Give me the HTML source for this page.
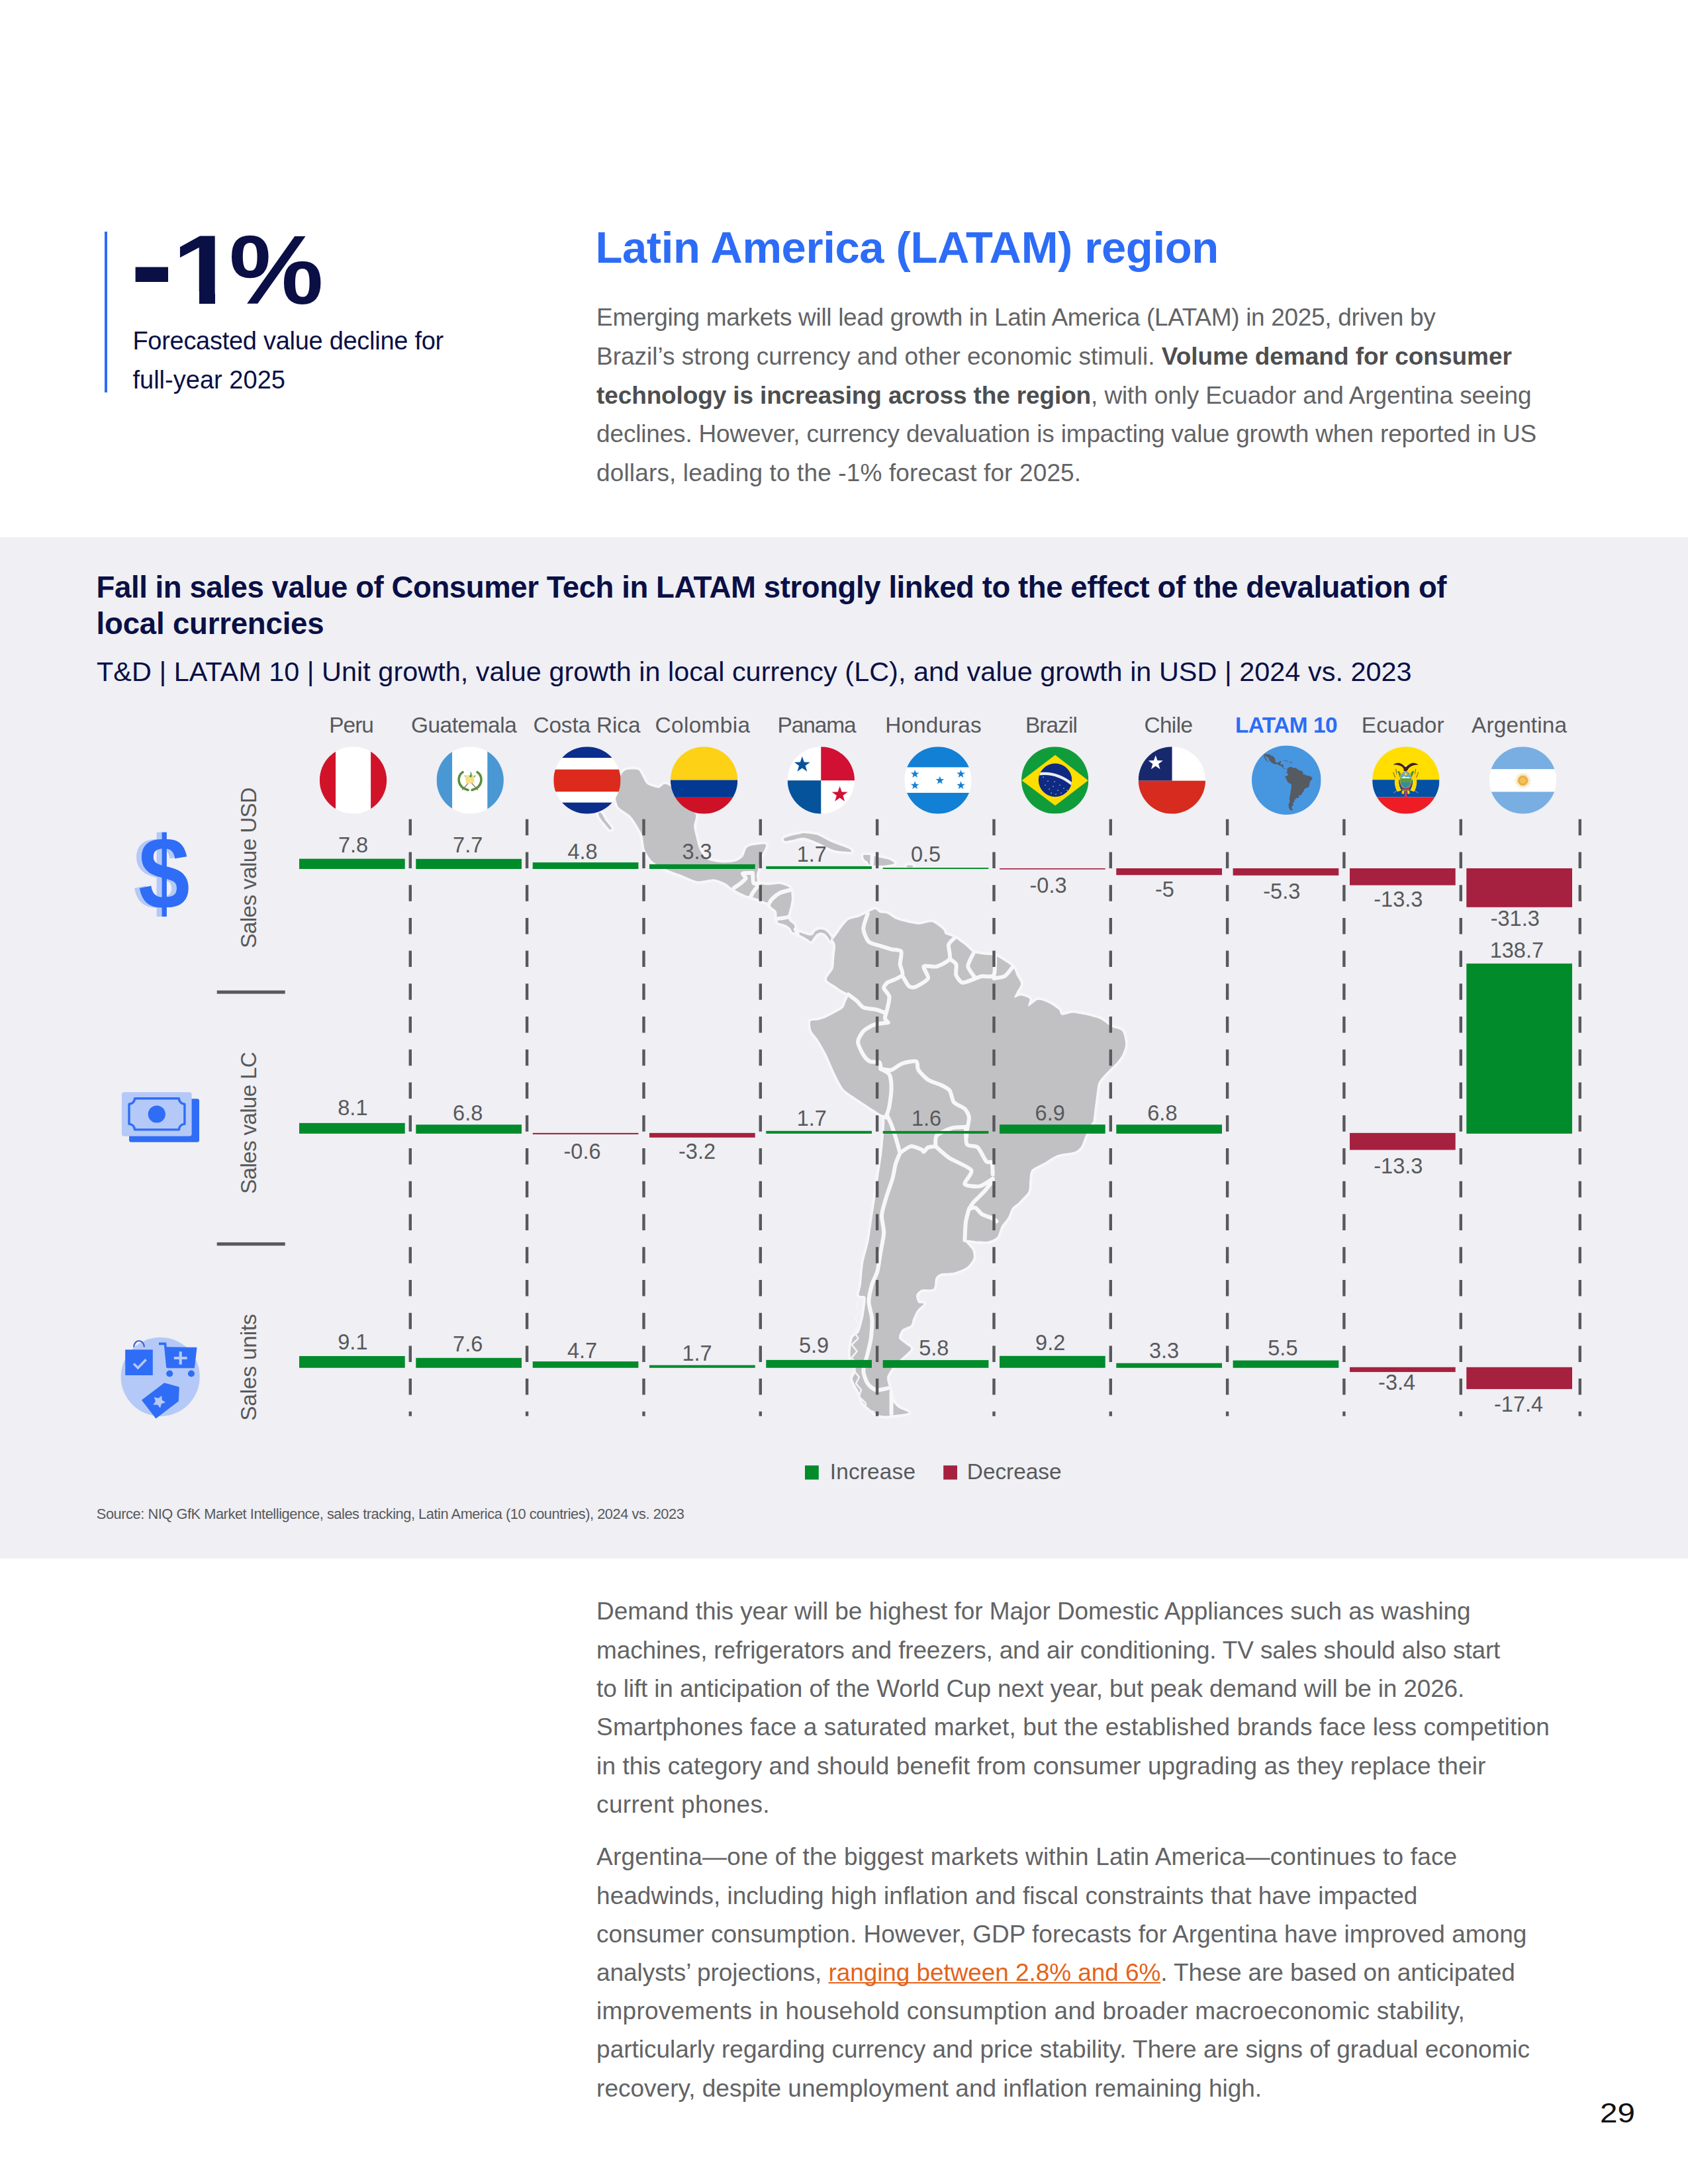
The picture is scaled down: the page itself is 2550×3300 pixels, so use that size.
<!DOCTYPE html>
<html lang="en"><head><meta charset="utf-8"><title>Latin America (LATAM) region</title>
<style>
html,body{margin:0;padding:0}
body{width:2550px;height:3300px;position:relative;background:#fff;overflow:hidden;font-family:'Liberation Sans',sans-serif}
.band{position:absolute;left:0;top:812px;width:2550px;height:1542.8px;background:#efeff4}
.rule{position:absolute;left:158.4px;top:349.5px;width:3.8px;height:243.5px;background:#2d6cf6}
.g{margin:0;padding:0;font:inherit}
.t{position:absolute;display:block;white-space:nowrap;line-height:1;transform-origin:0 50%}
.t b{font-weight:700;color:#4d4e50}
.t a{color:#e3641b;text-decoration:underline;text-decoration-thickness:2px;text-underline-offset:2px;text-decoration-skip-ink:none}
.usd{position:absolute;left:208.6px;top:1242px;font-size:155px;font-weight:700;line-height:1;color:#2f6df6;text-shadow:-8.5px -0.5px 0 #b5c9f8;transform:scaleX(0.90);transform-origin:0 0}
</style></head><body>
<div class="band"></div>
<div class="rule"></div>
<svg width="2550" height="3300" viewBox="0 0 2550 3300" style="position:absolute;left:0;top:0">
<path d="M929.6 1199.6 C929.7 1194.4 933.1 1181.8 935.0 1177.4 C936.8 1173.0 940.8 1165.8 944.4 1164.1 C948.0 1162.3 960.5 1162.2 963.7 1163.2 C966.8 1164.1 967.9 1168.8 969.6 1171.5 C971.3 1174.2 974.5 1182.4 977.6 1184.8 C980.8 1187.2 991.5 1190.7 994.8 1190.7 C998.0 1190.7 1001.3 1185.0 1003.7 1184.8 C1006.1 1184.6 1011.4 1186.5 1014.0 1189.2 C1016.6 1192.0 1021.3 1203.3 1024.4 1207.0 C1027.6 1210.7 1035.9 1215.9 1039.2 1218.9 C1042.6 1221.8 1050.0 1227.0 1051.1 1230.7 C1052.2 1234.4 1048.1 1244.4 1048.1 1248.5 C1048.1 1252.6 1050.0 1258.9 1051.1 1263.3 C1052.2 1267.7 1054.8 1279.6 1057.0 1284.0 C1059.2 1288.5 1064.8 1296.4 1068.8 1298.8 C1072.9 1301.2 1084.4 1302.9 1089.6 1303.3 C1094.8 1303.7 1106.2 1302.9 1110.3 1301.8 C1114.4 1300.7 1119.9 1297.0 1122.2 1294.4 C1124.4 1291.8 1126.2 1283.2 1128.1 1281.1 C1129.9 1279.0 1133.4 1278.2 1137.0 1277.5 C1140.5 1276.8 1154.0 1274.9 1156.2 1275.7 C1158.4 1276.5 1155.7 1281.5 1154.7 1284.0 C1153.8 1286.5 1149.9 1292.5 1148.8 1295.9 C1147.7 1299.2 1146.6 1307.4 1145.9 1310.7 C1145.1 1314.0 1142.9 1319.6 1142.9 1322.5 C1142.9 1325.5 1143.6 1332.5 1145.9 1334.4 C1148.1 1336.2 1156.6 1337.2 1160.7 1337.3 C1164.7 1337.5 1174.4 1335.3 1178.4 1335.9 C1182.5 1336.4 1191.1 1339.2 1193.2 1341.8 C1195.4 1344.4 1195.8 1353.2 1195.9 1356.6 C1196.0 1360.0 1194.8 1365.7 1194.1 1369.0 C1193.5 1372.4 1190.8 1380.5 1190.6 1383.3 C1190.4 1386.0 1191.2 1389.5 1192.4 1391.3 C1193.5 1393.0 1198.4 1395.8 1199.5 1397.5 C1200.6 1399.1 1200.4 1403.3 1201.2 1404.6 C1202.1 1405.9 1205.0 1407.4 1206.6 1408.1 C1208.1 1408.9 1211.7 1410.1 1213.7 1410.8 C1215.7 1411.5 1220.8 1413.2 1222.6 1413.5 C1224.3 1413.7 1226.8 1413.4 1227.9 1412.6 C1229.0 1411.8 1230.1 1408.3 1231.5 1407.3 C1232.8 1406.2 1236.8 1404.5 1238.6 1404.3 C1240.3 1404.1 1244.1 1404.8 1245.7 1405.5 C1247.2 1406.2 1249.7 1408.5 1251.0 1409.9 C1252.3 1411.4 1255.3 1415.9 1256.3 1417.0 C1257.3 1418.1 1257.7 1419.9 1259.0 1418.8 C1260.3 1417.7 1265.6 1410.1 1267.0 1408.1 C1268.4 1406.2 1268.2 1405.5 1270.1 1403.3 C1271.9 1401.1 1278.0 1392.5 1281.5 1390.3 C1284.9 1388.0 1294.1 1386.8 1297.8 1385.4 C1301.4 1384.0 1307.7 1380.3 1310.8 1378.9 C1313.8 1377.5 1319.9 1374.0 1322.2 1374.0 C1324.4 1374.0 1326.5 1378.1 1328.7 1378.9 C1330.9 1379.7 1337.1 1379.3 1340.1 1380.5 C1343.2 1381.7 1349.5 1387.0 1353.1 1388.7 C1356.8 1390.3 1365.0 1392.5 1369.4 1393.5 C1373.9 1394.6 1384.1 1396.8 1389.0 1396.8 C1393.9 1396.8 1404.1 1392.5 1408.5 1393.5 C1413.0 1394.6 1422.4 1402.7 1424.8 1404.9 C1427.3 1407.2 1426.1 1410.0 1428.1 1411.5 C1430.1 1412.9 1437.5 1414.3 1441.1 1416.3 C1444.8 1418.4 1453.7 1424.9 1457.4 1427.8 C1461.1 1430.6 1466.8 1437.3 1470.4 1439.2 C1474.1 1441.0 1482.7 1441.8 1486.7 1442.4 C1490.8 1443.0 1499.2 1442.8 1503.0 1444.0 C1506.9 1445.3 1514.2 1449.9 1517.7 1452.2 C1521.2 1454.4 1528.5 1459.3 1530.7 1462.0 C1533.0 1464.6 1534.2 1470.3 1535.6 1473.4 C1537.0 1476.4 1542.1 1483.1 1542.1 1486.4 C1542.1 1489.7 1536.8 1496.8 1535.6 1499.4 C1534.4 1502.1 1531.5 1507.0 1532.4 1507.6 C1533.2 1508.2 1539.3 1504.1 1542.1 1504.3 C1545.0 1504.5 1553.7 1507.2 1555.2 1509.2 C1556.6 1511.2 1551.9 1520.4 1553.5 1520.6 C1555.2 1520.8 1564.3 1511.5 1568.2 1510.8 C1572.1 1510.2 1580.6 1513.9 1584.5 1515.7 C1588.4 1517.6 1596.7 1523.3 1599.2 1525.5 C1601.6 1527.7 1601.4 1533.0 1604.0 1533.6 C1606.7 1534.3 1615.9 1530.4 1620.3 1530.4 C1624.8 1530.4 1634.6 1532.4 1639.9 1533.6 C1645.2 1534.9 1657.8 1537.9 1662.7 1540.2 C1667.6 1542.4 1674.9 1549.3 1679.0 1551.6 C1683.1 1553.8 1692.6 1554.8 1695.3 1558.1 C1697.9 1561.3 1700.2 1573.2 1700.2 1577.6 C1700.2 1582.1 1697.1 1590.3 1695.3 1593.9 C1693.4 1597.6 1688.8 1603.3 1685.5 1607.0 C1682.2 1610.6 1672.5 1619.6 1669.2 1623.3 C1665.9 1626.9 1661.1 1632.2 1659.4 1636.3 C1657.8 1640.4 1657.0 1650.1 1656.2 1655.8 C1655.4 1661.5 1653.5 1677.0 1652.9 1681.9 C1652.3 1686.8 1651.7 1693.1 1651.3 1694.9 C1650.9 1696.7 1651.1 1693.7 1649.7 1696.3 C1648.2 1698.9 1641.9 1711.4 1639.9 1715.8 C1637.8 1720.3 1635.4 1729.1 1633.4 1732.1 C1631.3 1735.2 1628.1 1738.7 1623.6 1740.3 C1619.1 1741.9 1603.2 1743.1 1597.5 1745.2 C1591.8 1747.2 1582.9 1753.7 1578.0 1756.6 C1573.1 1759.4 1561.3 1764.5 1558.4 1768.0 C1555.6 1771.4 1555.8 1780.2 1555.2 1784.3 C1554.6 1788.3 1555.6 1796.5 1553.5 1800.6 C1551.5 1804.6 1541.9 1813.8 1538.9 1816.9 C1535.8 1819.9 1531.1 1822.1 1529.1 1825.0 C1527.1 1827.8 1524.6 1836.2 1522.6 1839.7 C1520.5 1843.1 1514.8 1849.0 1512.8 1852.7 C1510.8 1856.4 1508.7 1866.1 1506.3 1869.0 C1503.8 1871.8 1496.9 1874.7 1493.3 1875.5 C1489.6 1876.3 1481.4 1875.7 1477.0 1875.5 C1472.5 1875.3 1458.4 1872.2 1457.4 1873.9 C1456.4 1875.5 1467.2 1885.1 1468.8 1888.5 C1470.4 1892.0 1471.5 1898.3 1470.4 1901.6 C1469.4 1904.8 1464.3 1912.0 1460.7 1914.6 C1457.0 1917.3 1446.0 1921.5 1441.1 1922.8 C1436.2 1924.0 1425.0 1923.4 1421.6 1924.4 C1418.1 1925.4 1414.9 1928.0 1413.4 1930.9 C1412.0 1933.7 1412.8 1944.9 1410.2 1947.2 C1407.5 1949.4 1395.5 1947.6 1392.2 1948.8 C1389.0 1950.0 1384.7 1954.5 1384.1 1957.0 C1383.5 1959.4 1385.9 1966.7 1387.4 1968.4 C1388.8 1970.0 1395.7 1968.6 1395.5 1970.0 C1395.3 1971.4 1387.8 1976.9 1385.7 1979.8 C1383.7 1982.6 1380.4 1990.0 1379.2 1992.8 C1378.0 1995.7 1378.0 2000.5 1376.0 2002.6 C1373.9 2004.6 1365.2 2006.7 1362.9 2009.1 C1360.7 2011.5 1357.2 2019.3 1358.0 2022.1 C1358.8 2025.0 1367.2 2029.9 1369.4 2031.9 C1371.7 2033.9 1376.8 2036.0 1376.0 2038.4 C1375.1 2040.9 1366.2 2048.2 1362.9 2051.5 C1359.7 2054.7 1352.7 2060.8 1349.9 2064.5 C1347.0 2068.2 1340.9 2076.7 1340.1 2080.8 C1339.3 2084.9 1342.6 2093.0 1343.4 2097.1 C1344.2 2101.1 1345.0 2109.7 1346.6 2113.4 C1348.3 2117.0 1353.1 2123.8 1356.4 2126.4 C1359.7 2129.0 1373.1 2133.1 1372.7 2134.5 C1372.3 2136.0 1357.6 2137.2 1353.1 2137.8 C1348.7 2138.4 1340.5 2139.6 1336.9 2139.4 C1333.2 2139.2 1327.9 2138.6 1323.8 2136.2 C1319.7 2133.7 1307.5 2124.0 1304.3 2119.9 C1301.0 2115.8 1299.8 2108.1 1297.8 2103.6 C1295.7 2099.1 1288.6 2088.1 1288.0 2084.0 C1287.4 2080.0 1293.3 2075.5 1292.9 2071.0 C1292.5 2066.5 1285.3 2054.3 1284.7 2048.2 C1284.1 2042.1 1286.3 2026.6 1288.0 2022.1 C1289.6 2017.7 1295.7 2016.4 1297.8 2012.4 C1299.8 2008.3 1303.0 1996.1 1304.3 1989.5 C1305.5 1983.0 1308.3 1964.3 1307.5 1960.2 C1306.7 1956.1 1298.6 1959.4 1297.8 1957.0 C1296.9 1954.5 1300.2 1946.8 1301.0 1940.7 C1301.8 1934.6 1302.8 1916.2 1304.3 1908.1 C1305.7 1899.9 1310.8 1883.6 1312.4 1875.5 C1314.0 1867.4 1316.1 1851.1 1317.3 1842.9 C1318.5 1834.8 1321.0 1818.5 1322.2 1810.3 C1323.4 1802.2 1325.9 1785.9 1327.1 1777.8 C1328.3 1769.6 1330.9 1753.3 1332.0 1745.2 C1333.0 1737.0 1334.7 1719.9 1335.2 1712.6 C1335.8 1705.3 1336.8 1690.1 1336.2 1686.5 C1335.6 1682.9 1335.1 1686.6 1330.3 1683.5 C1325.5 1680.5 1304.7 1667.0 1297.8 1662.4 C1290.8 1657.7 1279.4 1651.0 1274.9 1646.1 C1270.5 1641.2 1265.2 1629.8 1261.9 1623.3 C1258.7 1616.7 1252.1 1600.4 1248.9 1593.9 C1245.6 1587.4 1238.7 1575.6 1235.8 1571.1 C1233.0 1566.6 1227.5 1561.5 1226.1 1558.1 C1224.6 1554.6 1223.4 1545.5 1224.4 1543.4 C1225.5 1541.4 1231.6 1542.4 1234.2 1541.8 C1236.9 1541.2 1243.2 1539.4 1245.6 1538.5 C1248.1 1537.6 1252.1 1535.4 1253.8 1534.6 C1255.4 1533.8 1257.0 1532.9 1258.7 1532.0 C1260.3 1531.1 1264.8 1528.7 1266.8 1527.5 C1268.8 1526.2 1272.9 1523.9 1274.3 1522.2 C1275.6 1520.6 1276.7 1516.5 1277.5 1514.1 C1278.4 1511.7 1282.4 1505.0 1281.5 1502.7 C1280.5 1500.4 1272.5 1497.2 1270.1 1495.5 C1267.6 1493.9 1264.6 1491.6 1261.9 1489.7 C1259.3 1487.7 1249.3 1483.1 1248.9 1479.9 C1248.5 1476.6 1257.2 1467.7 1258.7 1463.6 C1260.1 1459.5 1259.9 1451.8 1260.3 1447.3 C1260.7 1442.8 1262.4 1431.5 1261.9 1427.8 C1261.4 1424.0 1257.0 1418.1 1256.0 1417.3 C1255.1 1416.5 1255.3 1421.7 1254.6 1421.5 C1253.8 1421.2 1251.2 1416.6 1250.1 1415.2 C1249.0 1413.9 1247.0 1411.6 1245.7 1410.8 C1244.3 1410.0 1241.0 1408.9 1239.5 1409.0 C1237.9 1409.1 1234.7 1410.5 1233.2 1411.7 C1231.8 1412.9 1228.9 1417.5 1227.9 1418.8 C1226.9 1420.1 1226.1 1422.2 1225.2 1422.4 C1224.3 1422.5 1222.2 1420.6 1220.8 1419.7 C1219.3 1418.8 1215.5 1416.2 1213.7 1415.2 C1211.9 1414.2 1208.2 1412.5 1206.6 1411.7 C1204.9 1410.9 1201.6 1409.5 1200.4 1409.0 C1199.1 1408.6 1197.6 1408.9 1196.8 1408.1 C1196.0 1407.4 1195.1 1404.0 1194.1 1402.8 C1193.1 1401.6 1190.4 1399.3 1188.8 1398.4 C1187.2 1397.5 1183.4 1396.3 1181.7 1395.7 C1180.0 1395.1 1176.5 1394.9 1175.5 1393.9 C1174.5 1392.9 1174.0 1389.8 1173.7 1387.7 C1173.4 1385.6 1173.8 1379.1 1172.8 1377.0 C1171.8 1374.9 1167.1 1372.3 1165.7 1370.8 C1164.3 1369.4 1163.0 1366.7 1161.3 1365.5 C1159.5 1364.3 1154.4 1362.2 1151.8 1361.0 C1149.1 1359.9 1143.3 1357.7 1139.9 1356.6 C1136.6 1355.5 1129.2 1353.8 1125.1 1352.2 C1121.0 1350.5 1111.0 1345.5 1107.3 1343.3 C1103.6 1341.0 1099.2 1336.2 1095.5 1334.4 C1091.8 1332.5 1082.9 1328.8 1077.7 1328.5 C1072.5 1328.1 1060.0 1332.2 1054.0 1331.4 C1048.1 1330.7 1036.3 1324.8 1030.3 1322.5 C1024.4 1320.3 1012.2 1316.2 1006.6 1313.6 C1001.1 1311.1 990.0 1305.5 985.9 1301.8 C981.8 1298.1 976.1 1289.2 974.1 1284.0 C972.0 1278.8 972.2 1266.6 969.6 1260.3 C967.0 1254.0 957.8 1238.9 953.3 1233.7 C948.9 1228.5 937.0 1223.1 934.1 1218.9 C931.1 1214.6 929.5 1204.8 929.6 1199.6 Z M1184.4 1266.8 C1185.7 1265.8 1193.2 1263.5 1196.2 1262.7 C1199.2 1261.9 1205.8 1260.8 1208.1 1260.3 C1210.3 1259.9 1210.6 1258.7 1214.0 1258.9 C1217.3 1259.0 1229.5 1260.1 1234.7 1261.8 C1239.9 1263.5 1249.5 1269.6 1255.5 1272.2 C1261.4 1274.8 1278.4 1280.7 1282.1 1282.5 C1285.8 1284.4 1287.8 1286.7 1285.1 1287.0 C1282.3 1287.2 1266.2 1286.4 1259.9 1284.6 C1253.6 1282.8 1240.5 1275.1 1234.7 1272.8 C1229.0 1270.4 1218.8 1266.1 1214.0 1265.7 C1209.2 1265.2 1199.7 1268.6 1196.2 1269.2 C1192.7 1269.8 1187.3 1271.0 1185.8 1270.7 C1184.4 1270.4 1183.1 1267.8 1184.4 1266.8 Z M1304.3 1292.3 C1305.4 1291.5 1311.9 1292.0 1314.7 1292.3 C1317.5 1292.7 1322.8 1294.4 1326.5 1295.3 C1330.2 1296.2 1341.3 1298.2 1344.3 1299.4 C1347.3 1300.6 1351.9 1303.7 1350.8 1304.8 C1349.7 1305.8 1339.9 1307.4 1335.4 1307.7 C1330.9 1308.0 1317.8 1307.9 1314.7 1307.1 C1311.5 1306.4 1311.4 1302.8 1310.2 1301.8 C1309.1 1300.8 1306.5 1300.0 1305.8 1298.8 C1305.1 1297.7 1303.2 1293.1 1304.3 1292.3 Z M1370.4 1307.7 C1371.4 1307.4 1377.4 1307.4 1378.4 1307.7 C1379.4 1308.1 1379.4 1310.1 1378.4 1310.4 C1377.4 1310.7 1371.4 1310.7 1370.4 1310.4 C1369.4 1310.1 1369.4 1308.1 1370.4 1307.7 Z M904.4 1227.7 C904.9 1227.2 907.6 1227.7 908.9 1229.2 C910.2 1230.7 913.0 1236.8 914.8 1239.6 C916.7 1242.4 923.0 1249.8 923.7 1251.4 C924.4 1253.1 922.2 1254.0 920.7 1252.9 C919.3 1251.8 913.8 1245.0 911.8 1242.6 C909.9 1240.2 906.3 1235.5 905.3 1233.7 C904.4 1231.8 904.0 1228.3 904.4 1227.7 Z" fill="#c1c1c4" stroke="#f7f7fa" stroke-width="8" stroke-linejoin="round" paint-order="stroke"/>
<path d="M1108.8 1341.8 C1110.1 1340.9 1117.0 1336.2 1119.2 1334.4 C1121.4 1332.5 1126.2 1328.8 1126.6 1327.0 C1127.0 1325.1 1120.9 1320.6 1122.2 1319.6 C1123.5 1318.6 1135.1 1319.1 1137.0 1319.0 M1137.0 1319.0 C1137.2 1320.9 1137.3 1332.5 1138.4 1334.4 C1139.6 1336.3 1144.9 1334.4 1145.9 1334.4 M1145.9 1337.3 C1144.7 1338.8 1138.4 1347.0 1137.0 1349.2 C1135.5 1351.4 1134.4 1354.4 1134.0 1355.1 M1160.7 1367.0 C1161.4 1365.9 1164.4 1360.3 1166.6 1358.1 C1168.8 1355.9 1175.1 1350.9 1178.4 1349.2 C1181.8 1347.5 1191.4 1345.3 1193.2 1344.8 M1173.7 1388.3 C1174.8 1388.1 1180.6 1387.5 1182.9 1387.1 C1185.1 1386.7 1190.7 1385.6 1191.8 1385.3 M1201.8 1404.3 L1204.8 1410.2 M1317.7 1292.9 L1317.1 1307.1 M1310.8 1380.5 C1310.0 1383.4 1304.1 1398.0 1304.3 1403.3 C1304.5 1408.6 1309.2 1419.6 1312.4 1422.9 C1315.7 1426.1 1326.1 1428.0 1330.3 1429.4 C1334.6 1430.8 1342.8 1433.3 1346.6 1434.3 C1350.5 1435.3 1359.7 1434.7 1361.3 1437.5 C1362.9 1440.4 1359.5 1452.6 1359.7 1457.1 C1359.9 1461.6 1365.4 1469.9 1362.9 1473.4 C1360.5 1476.8 1343.0 1483.3 1340.1 1484.8 M1362.9 1473.4 C1364.1 1475.4 1370.3 1487.4 1372.7 1489.7 C1375.1 1491.9 1378.8 1492.7 1382.5 1491.3 C1386.1 1489.9 1400.4 1482.1 1402.0 1478.3 C1403.6 1474.4 1393.9 1462.6 1395.5 1460.3 C1397.1 1458.1 1410.2 1461.8 1415.1 1460.3 C1419.9 1458.9 1432.4 1453.0 1434.6 1448.9 C1436.8 1444.9 1432.2 1431.6 1433.0 1427.8 C1433.8 1423.9 1440.1 1419.2 1441.1 1418.0 M1434.6 1448.9 C1435.8 1449.9 1443.2 1454.0 1444.4 1457.1 C1445.6 1460.1 1443.2 1469.9 1444.4 1473.4 C1445.6 1476.8 1450.5 1484.2 1454.2 1484.8 C1457.8 1485.4 1471.3 1479.1 1473.7 1478.3 M1470.4 1440.8 C1469.4 1443.2 1461.9 1455.7 1462.3 1460.3 C1462.7 1465.0 1472.3 1476.0 1473.7 1478.3 M1503.0 1444.0 C1502.8 1447.7 1503.8 1469.5 1501.4 1473.4 C1499.0 1477.2 1486.9 1474.4 1483.5 1475.0 C1480.0 1475.6 1474.9 1477.8 1473.7 1478.3 M1501.4 1478.3 C1503.4 1477.8 1514.2 1477.0 1517.7 1475.0 C1521.2 1473.0 1527.7 1463.6 1529.1 1462.0 M1340.1 1484.8 C1339.5 1485.8 1334.8 1490.3 1335.2 1492.9 C1335.6 1495.6 1342.8 1501.9 1343.4 1506.0 C1344.0 1510.0 1340.9 1521.4 1340.1 1525.5 C1339.3 1529.6 1336.6 1536.1 1336.9 1538.5 C1337.1 1541.0 1341.1 1544.2 1341.7 1545.1 M1281.5 1502.7 C1283.1 1503.9 1291.6 1510.0 1294.5 1512.5 C1297.3 1514.9 1300.6 1520.6 1304.3 1522.2 C1307.9 1523.9 1319.7 1524.5 1323.8 1525.5 C1327.9 1526.5 1335.2 1529.8 1336.9 1530.4 M1341.7 1545.1 C1339.1 1545.5 1325.2 1546.7 1320.6 1548.3 C1315.9 1549.9 1307.3 1554.8 1304.3 1558.1 C1301.2 1561.3 1296.1 1569.9 1296.1 1574.4 C1296.1 1578.9 1302.0 1590.3 1304.3 1593.9 C1306.5 1597.6 1311.0 1602.3 1314.0 1603.7 C1317.1 1605.1 1326.7 1603.9 1328.7 1605.3 C1330.7 1606.8 1330.1 1613.9 1330.3 1615.1 M1330.3 1615.1 C1332.4 1615.3 1342.6 1617.8 1346.6 1616.7 C1350.7 1615.7 1358.2 1608.6 1362.9 1607.0 C1367.6 1605.3 1381.0 1602.5 1384.1 1603.7 C1387.2 1604.9 1385.1 1613.3 1387.4 1616.7 C1389.6 1620.2 1397.7 1628.6 1402.0 1631.4 C1406.3 1634.3 1417.5 1637.5 1421.6 1639.5 C1425.6 1641.6 1432.2 1644.4 1434.6 1647.7 C1437.0 1651.0 1438.3 1662.2 1441.1 1665.6 C1444.0 1669.1 1454.6 1672.5 1457.4 1675.4 C1460.3 1678.2 1463.5 1684.3 1463.9 1688.4 C1464.3 1692.5 1461.2 1704.3 1460.7 1708.0 C1460.2 1711.6 1460.1 1716.5 1460.0 1717.7 M1330.3 1615.1 C1332.0 1616.1 1341.3 1619.8 1343.4 1623.3 C1345.4 1626.7 1346.6 1636.7 1346.6 1642.8 C1346.6 1648.9 1344.4 1666.4 1343.4 1672.1 C1342.4 1677.8 1339.1 1686.4 1338.5 1688.4 M1339.5 1683.9 C1340.4 1685.9 1344.9 1695.2 1346.6 1699.6 C1348.3 1703.9 1351.5 1713.8 1353.1 1719.1 C1354.8 1724.4 1358.8 1739.1 1359.7 1741.9 M1359.7 1741.9 C1361.7 1740.7 1371.9 1732.7 1376.0 1732.1 C1380.0 1731.5 1389.8 1736.0 1392.2 1737.0 C1394.7 1738.0 1394.3 1740.7 1395.5 1740.3 C1396.7 1739.9 1399.8 1734.8 1402.0 1733.8 C1404.3 1732.7 1412.0 1732.3 1413.4 1732.1 M1413.4 1732.1 C1413.6 1730.1 1412.0 1719.3 1415.1 1715.8 C1418.1 1712.4 1432.4 1706.1 1437.9 1704.4 C1443.4 1702.8 1456.4 1703.0 1459.0 1702.8 M1459.0 1702.8 C1459.2 1706.1 1458.4 1725.0 1460.7 1728.9 C1462.9 1732.7 1473.3 1730.5 1477.0 1733.8 C1480.6 1737.0 1487.3 1752.1 1490.0 1754.9 C1492.6 1757.8 1496.9 1754.1 1498.1 1756.6 C1499.4 1759.0 1499.6 1772.3 1499.8 1774.5 M1413.4 1732.1 C1416.1 1734.4 1427.9 1745.6 1434.6 1750.1 C1441.3 1754.5 1464.3 1763.1 1467.2 1768.0 C1470.0 1772.9 1455.8 1786.1 1457.4 1789.2 C1459.0 1792.2 1474.9 1793.4 1480.2 1792.4 C1485.5 1791.4 1497.3 1782.4 1499.8 1781.0 M1499.8 1784.3 C1498.1 1786.3 1490.4 1796.5 1486.7 1800.6 C1483.1 1804.6 1473.3 1813.6 1470.4 1816.9 C1467.6 1820.1 1464.7 1825.4 1463.9 1826.6 M1463.9 1826.6 C1465.2 1826.4 1471.3 1824.0 1473.7 1825.0 C1476.1 1826.0 1480.2 1832.7 1483.5 1834.8 C1486.7 1836.8 1497.0 1839.9 1499.8 1841.3 C1502.5 1842.6 1504.9 1845.0 1505.6 1845.5 M1463.9 1826.6 C1463.3 1829.1 1459.9 1840.3 1459.0 1846.2 C1458.2 1852.1 1457.6 1870.4 1457.4 1873.9 M1359.7 1741.9 C1358.8 1743.9 1354.6 1753.3 1353.1 1758.2 C1351.7 1763.1 1350.1 1774.5 1348.3 1781.0 C1346.4 1787.5 1340.5 1803.4 1338.5 1810.3 C1336.4 1817.3 1332.4 1829.9 1332.0 1836.4 C1331.6 1842.9 1335.4 1855.5 1335.2 1862.5 C1335.0 1869.4 1331.6 1884.5 1330.3 1891.8 C1329.1 1899.1 1327.1 1915.0 1325.4 1921.1 C1323.8 1927.2 1318.9 1935.0 1317.3 1940.7 C1315.7 1946.4 1312.4 1960.2 1312.4 1966.7 C1312.4 1973.3 1316.9 1985.9 1317.3 1992.8 C1317.7 1999.7 1316.5 2015.6 1315.7 2022.1 C1314.9 2028.6 1312.2 2038.8 1310.8 2044.9 C1309.4 2051.0 1304.3 2065.3 1304.3 2071.0 C1304.3 2076.7 1308.3 2086.9 1310.8 2090.6 C1313.2 2094.2 1319.7 2099.5 1323.8 2100.3 C1327.9 2101.1 1340.9 2097.5 1343.4 2097.1 M1346.6 2103.6 L1346.6 2136.2" fill="none" stroke="#f7f7fa" stroke-width="6" stroke-linejoin="round" stroke-linecap="round"/>
<path d="M1297.8 1963.5 C1297.6 1964.0 1293.8 1972.3 1293.8 1973.3 C1293.9 1974.2 1298.5 1982.1 1298.4 1983.0 C1298.3 1984.0 1291.9 1991.8 1291.9 1992.8 C1291.9 1993.8 1297.8 2001.6 1297.8 2002.6 C1297.7 2003.6 1290.3 2011.4 1290.3 2012.4 C1290.2 2013.3 1296.6 2021.2 1296.4 2022.1 C1296.3 2023.1 1287.1 2030.9 1287.0 2031.9 C1286.9 2032.9 1294.5 2040.7 1294.5 2041.7 C1294.5 2042.7 1286.7 2050.5 1286.7 2051.5 C1286.7 2052.4 1294.3 2060.3 1294.5 2061.2 C1294.7 2062.2 1289.8 2070.0 1289.9 2071.0 C1290.1 2072.0 1297.6 2079.8 1297.8 2080.8 C1297.9 2081.8 1293.0 2089.6 1293.2 2090.6 C1293.4 2091.5 1300.8 2099.4 1301.0 2100.3 C1301.2 2101.3 1297.4 2109.1 1297.8 2110.1 C1298.1 2111.1 1307.0 2118.9 1307.5 2119.9 C1308.0 2120.9 1307.5 2129.0 1308.2 2129.7 C1308.9 2130.3 1320.6 2133.4 1321.2 2133.6" fill="none" stroke="#f4f4f7" stroke-width="2.6" stroke-linejoin="round"/>
<line x1="619.8" y1="1237.7" x2="619.8" y2="2139.8" stroke="#58595b" stroke-width="4.4" stroke-dasharray="24.5 25.23"/>
<line x1="796.1" y1="1237.7" x2="796.1" y2="2139.8" stroke="#58595b" stroke-width="4.4" stroke-dasharray="24.5 25.23"/>
<line x1="972.5" y1="1237.7" x2="972.5" y2="2139.8" stroke="#58595b" stroke-width="4.4" stroke-dasharray="24.5 25.23"/>
<line x1="1148.8" y1="1237.7" x2="1148.8" y2="2139.8" stroke="#58595b" stroke-width="4.4" stroke-dasharray="24.5 25.23"/>
<line x1="1325.1" y1="1237.7" x2="1325.1" y2="2139.8" stroke="#58595b" stroke-width="4.4" stroke-dasharray="24.5 25.23"/>
<line x1="1501.5" y1="1237.7" x2="1501.5" y2="2139.8" stroke="#58595b" stroke-width="4.4" stroke-dasharray="24.5 25.23"/>
<line x1="1677.8" y1="1237.7" x2="1677.8" y2="2139.8" stroke="#58595b" stroke-width="4.4" stroke-dasharray="24.5 25.23"/>
<line x1="1854.1" y1="1237.7" x2="1854.1" y2="2139.8" stroke="#58595b" stroke-width="4.4" stroke-dasharray="24.5 25.23"/>
<line x1="2030.4" y1="1237.7" x2="2030.4" y2="2139.8" stroke="#58595b" stroke-width="4.4" stroke-dasharray="24.5 25.23"/>
<line x1="2206.8" y1="1237.7" x2="2206.8" y2="2139.8" stroke="#58595b" stroke-width="4.4" stroke-dasharray="24.5 25.23"/>
<line x1="2386.8" y1="1237.7" x2="2386.8" y2="2139.8" stroke="#58595b" stroke-width="4.4" stroke-dasharray="24.5 25.23"/>
<rect x="452.0" y="1297.6" width="159.7" height="15.4" fill="#028b2b"/>
<rect x="628.3" y="1297.8" width="159.7" height="15.2" fill="#028b2b"/>
<rect x="804.7" y="1303.1" width="159.7" height="9.9" fill="#028b2b"/>
<rect x="981.0" y="1305.9" width="159.7" height="7.1" fill="#028b2b"/>
<rect x="1157.3" y="1308.9" width="159.7" height="4.1" fill="#028b2b"/>
<rect x="1333.7" y="1311.1" width="159.7" height="1.9" fill="#028b2b"/>
<rect x="1510.0" y="1312.0" width="159.7" height="1.6" fill="#a6213f"/>
<rect x="1686.3" y="1312.0" width="159.7" height="10.2" fill="#a6213f"/>
<rect x="1862.6" y="1312.0" width="159.7" height="10.8" fill="#a6213f"/>
<rect x="2039.0" y="1312.0" width="159.7" height="25.6" fill="#a6213f"/>
<rect x="2215.3" y="1312.0" width="159.7" height="58.8" fill="#a6213f"/>
<rect x="452.0" y="1696.9" width="159.7" height="16.0" fill="#028b2b"/>
<rect x="628.3" y="1699.3" width="159.7" height="13.6" fill="#028b2b"/>
<rect x="804.7" y="1711.9" width="159.7" height="2.1" fill="#a6213f"/>
<rect x="981.0" y="1711.9" width="159.7" height="6.9" fill="#a6213f"/>
<rect x="1157.3" y="1708.8" width="159.7" height="4.1" fill="#028b2b"/>
<rect x="1333.7" y="1708.9" width="159.7" height="4.0" fill="#028b2b"/>
<rect x="1510.0" y="1699.2" width="159.7" height="13.7" fill="#028b2b"/>
<rect x="1686.3" y="1699.3" width="159.7" height="13.6" fill="#028b2b"/>
<rect x="2039.0" y="1711.9" width="159.7" height="25.6" fill="#a6213f"/>
<rect x="2215.3" y="1455.9" width="159.7" height="257.0" fill="#028b2b"/>
<rect x="452.0" y="2049.0" width="159.7" height="17.8" fill="#028b2b"/>
<rect x="628.3" y="2051.8" width="159.7" height="15.0" fill="#028b2b"/>
<rect x="804.7" y="2057.1" width="159.7" height="9.7" fill="#028b2b"/>
<rect x="981.0" y="2062.7" width="159.7" height="4.1" fill="#028b2b"/>
<rect x="1157.3" y="2054.9" width="159.7" height="11.9" fill="#028b2b"/>
<rect x="1333.7" y="2055.1" width="159.7" height="11.7" fill="#028b2b"/>
<rect x="1510.0" y="2048.8" width="159.7" height="18.0" fill="#028b2b"/>
<rect x="1686.3" y="2059.7" width="159.7" height="7.1" fill="#028b2b"/>
<rect x="1862.6" y="2055.6" width="159.7" height="11.2" fill="#028b2b"/>
<rect x="2039.0" y="2065.8" width="159.7" height="7.3" fill="#a6213f"/>
<rect x="2215.3" y="2065.8" width="159.7" height="33.1" fill="#a6213f"/>
<g transform="translate(482.85 1128.25)"><clipPath id="fc0"><circle cx="50.65" cy="50.65" r="50.65"/></clipPath><g clip-path="url(#fc0)"><rect x="0.00" y="0.00" width="24.30" height="101.30" fill="#d01329"/><rect x="24.30" y="0.00" width="53.00" height="101.30" fill="#ffffff"/><rect x="77.30" y="0.00" width="30.00" height="101.30" fill="#d01329"/></g></g>
<g transform="translate(659.55 1128.25)"><clipPath id="fc1"><circle cx="50.65" cy="50.65" r="50.65"/></clipPath><g clip-path="url(#fc1)"><rect x="0.00" y="0.00" width="23.60" height="101.30" fill="#4a98d3"/><rect x="23.60" y="0.00" width="53.20" height="101.30" fill="#ffffff"/><rect x="76.80" y="0.00" width="30.00" height="101.30" fill="#4a98d3"/><path d="M47.5 65.5 C 30.5 61.5, 30.5 43.5, 39.5 38.5" fill="none" stroke="#5a8f3c" stroke-width="3.6" stroke-linecap="round"/><path d="M53.5 65.5 C 70.5 61.5, 70.5 43.5, 61.5 38.5" fill="none" stroke="#5a8f3c" stroke-width="3.6" stroke-linecap="round"/><path d="M38.5 65.5 L58.5 43.5 M62.5 65.5 L42.5 43.5" stroke="#8a7a4a" stroke-width="1.3"/><rect x="44.0" y="42.5" width="13" height="13" rx="2" fill="#f3e08a" transform="rotate(-8 50.5 51.5)"/><path d="M49.5 45.5 q 3 -5 1 -9 q 4 4 2 10 z" fill="#3f9a4a"/></g></g>
<g transform="translate(836.25 1128.25)"><clipPath id="fc2"><circle cx="50.65" cy="50.65" r="50.65"/></clipPath><g clip-path="url(#fc2)"><rect x="0.00" y="0.00" width="101.30" height="17.00" fill="#0b2d8c"/><rect x="0.00" y="17.00" width="101.30" height="17.40" fill="#ffffff"/><rect x="0.00" y="34.40" width="101.30" height="33.80" fill="#dc2b1c"/><rect x="0.00" y="68.20" width="101.30" height="16.20" fill="#ffffff"/><rect x="0.00" y="84.40" width="101.30" height="20.00" fill="#0b2d8c"/></g></g>
<g transform="translate(1012.95 1128.25)"><clipPath id="fc3"><circle cx="50.65" cy="50.65" r="50.65"/></clipPath><g clip-path="url(#fc3)"><rect x="0.00" y="0.00" width="101.30" height="50.40" fill="#fcd116"/><rect x="0.00" y="50.40" width="101.30" height="26.20" fill="#033893"/><rect x="0.00" y="76.60" width="101.30" height="30.00" fill="#ce1126"/></g></g>
<g transform="translate(1189.65 1128.25)"><clipPath id="fc4"><circle cx="50.65" cy="50.65" r="50.65"/></clipPath><g clip-path="url(#fc4)"><rect x="0.00" y="0.00" width="50.60" height="51.00" fill="#ffffff"/><rect x="50.60" y="51.00" width="60.00" height="60.00" fill="#ffffff"/><rect x="50.60" y="0.00" width="60.00" height="51.00" fill="#d21034"/><rect x="0.00" y="51.00" width="50.60" height="60.00" fill="#05539a"/><polygon points="22.20,14.70 25.16,23.22 34.18,23.41 26.99,28.86 29.61,37.49 22.20,32.34 14.79,37.49 17.41,28.86 10.22,23.41 19.24,23.22" fill="#05539a"/><polygon points="79.00,59.70 81.96,68.22 90.98,68.41 83.79,73.86 86.41,82.49 79.00,77.34 71.59,82.49 74.21,73.86 67.02,68.41 76.04,68.22" fill="#d21034"/></g></g>
<g transform="translate(1366.35 1128.25)"><clipPath id="fc5"><circle cx="50.65" cy="50.65" r="50.65"/></clipPath><g clip-path="url(#fc5)"><rect x="0.00" y="0.00" width="101.30" height="31.30" fill="#1280d4"/><rect x="0.00" y="31.30" width="101.30" height="38.40" fill="#ffffff"/><rect x="0.00" y="69.70" width="101.30" height="40.00" fill="#1280d4"/><polygon points="53.50,44.40 55.05,48.86 59.78,48.96 56.01,51.82 57.38,56.34 53.50,53.64 49.62,56.34 50.99,51.82 47.22,48.96 51.95,48.86" fill="#1280d4"/><polygon points="15.80,34.80 17.35,39.26 22.08,39.36 18.31,42.22 19.68,46.74 15.80,44.04 11.92,46.74 13.29,42.22 9.52,39.36 14.25,39.26" fill="#1280d4"/><polygon points="15.80,52.00 17.35,56.46 22.08,56.56 18.31,59.42 19.68,63.94 15.80,61.24 11.92,63.94 13.29,59.42 9.52,56.56 14.25,56.46" fill="#1280d4"/><polygon points="85.20,34.80 86.75,39.26 91.48,39.36 87.71,42.22 89.08,46.74 85.20,44.04 81.32,46.74 82.69,42.22 78.92,39.36 83.65,39.26" fill="#1280d4"/><polygon points="85.20,52.00 86.75,56.46 91.48,56.56 87.71,59.42 89.08,63.94 85.20,61.24 81.32,63.94 82.69,59.42 78.92,56.56 83.65,56.46" fill="#1280d4"/></g></g>
<g transform="translate(1543.05 1128.25)"><clipPath id="fc6"><circle cx="50.65" cy="50.65" r="50.65"/></clipPath><g clip-path="url(#fc6)"><rect x="0.00" y="0.00" width="101.30" height="101.30" fill="#119c3b"/><polygon points="0.5,51 51,12.6 100.8,51 51,89" fill="#fedd00"/><circle cx="51" cy="50.5" r="25.2" fill="#0f2a82"/><clipPath id="brc"><circle cx="51" cy="50.5" r="25.2"/></clipPath><path d="M22 42 Q 52 36 78 58" fill="none" stroke="#e9eef5" stroke-width="4.2" clip-path="url(#brc)"/><circle cx="36" cy="58" r="0.8" fill="#cfd8ee"/><circle cx="42" cy="64" r="0.8" fill="#cfd8ee"/><circle cx="48" cy="60" r="0.8" fill="#cfd8ee"/><circle cx="55" cy="66" r="0.8" fill="#cfd8ee"/><circle cx="60" cy="70" r="0.8" fill="#cfd8ee"/><circle cx="52" cy="72" r="0.8" fill="#cfd8ee"/><circle cx="45" cy="70" r="0.8" fill="#cfd8ee"/><circle cx="64" cy="63" r="0.8" fill="#cfd8ee"/><circle cx="69" cy="66" r="0.8" fill="#cfd8ee"/><circle cx="40" cy="52" r="0.8" fill="#cfd8ee"/><circle cx="58" cy="58" r="0.8" fill="#cfd8ee"/><circle cx="50" cy="53" r="0.8" fill="#cfd8ee"/><circle cx="66" cy="72" r="0.8" fill="#cfd8ee"/><circle cx="33" cy="46" r="0.8" fill="#cfd8ee"/></g></g>
<g transform="translate(1719.75 1128.25)"><clipPath id="fc7"><circle cx="50.65" cy="50.65" r="50.65"/></clipPath><g clip-path="url(#fc7)"><rect x="0.00" y="51.20" width="101.30" height="60.00" fill="#d62b1e"/><rect x="50.80" y="0.00" width="60.00" height="51.20" fill="#ffffff"/><rect x="0.00" y="0.00" width="50.80" height="51.20" fill="#17286d"/><polygon points="26.00,13.00 28.73,20.85 37.03,21.02 30.41,26.03 32.82,33.98 26.00,29.24 19.18,33.98 21.59,26.03 14.97,21.02 23.27,20.85" fill="#ffffff"/></g></g>
<g transform="translate(1891.00 1126.40)"><clipPath id="fc8"><circle cx="52.30" cy="52.30" r="52.30"/></clipPath><g clip-path="url(#fc8)"><rect x="0.00" y="0.00" width="104.60" height="104.60" fill="#4796e0"/><g transform="translate(-55.50 -86.70) scale(0.0864)"><path d="M929.6 1199.6 C929.7 1194.4 933.1 1181.8 935.0 1177.4 C936.8 1173.0 940.8 1165.8 944.4 1164.1 C948.0 1162.3 960.5 1162.2 963.7 1163.2 C966.8 1164.1 967.9 1168.8 969.6 1171.5 C971.3 1174.2 974.5 1182.4 977.6 1184.8 C980.8 1187.2 991.5 1190.7 994.8 1190.7 C998.0 1190.7 1001.3 1185.0 1003.7 1184.8 C1006.1 1184.6 1011.4 1186.5 1014.0 1189.2 C1016.6 1192.0 1021.3 1203.3 1024.4 1207.0 C1027.6 1210.7 1035.9 1215.9 1039.2 1218.9 C1042.6 1221.8 1050.0 1227.0 1051.1 1230.7 C1052.2 1234.4 1048.1 1244.4 1048.1 1248.5 C1048.1 1252.6 1050.0 1258.9 1051.1 1263.3 C1052.2 1267.7 1054.8 1279.6 1057.0 1284.0 C1059.2 1288.5 1064.8 1296.4 1068.8 1298.8 C1072.9 1301.2 1084.4 1302.9 1089.6 1303.3 C1094.8 1303.7 1106.2 1302.9 1110.3 1301.8 C1114.4 1300.7 1119.9 1297.0 1122.2 1294.4 C1124.4 1291.8 1126.2 1283.2 1128.1 1281.1 C1129.9 1279.0 1133.4 1278.2 1137.0 1277.5 C1140.5 1276.8 1154.0 1274.9 1156.2 1275.7 C1158.4 1276.5 1155.7 1281.5 1154.7 1284.0 C1153.8 1286.5 1149.9 1292.5 1148.8 1295.9 C1147.7 1299.2 1146.6 1307.4 1145.9 1310.7 C1145.1 1314.0 1142.9 1319.6 1142.9 1322.5 C1142.9 1325.5 1143.6 1332.5 1145.9 1334.4 C1148.1 1336.2 1156.6 1337.2 1160.7 1337.3 C1164.7 1337.5 1174.4 1335.3 1178.4 1335.9 C1182.5 1336.4 1191.1 1339.2 1193.2 1341.8 C1195.4 1344.4 1195.8 1353.2 1195.9 1356.6 C1196.0 1360.0 1194.8 1365.7 1194.1 1369.0 C1193.5 1372.4 1190.8 1380.5 1190.6 1383.3 C1190.4 1386.0 1191.2 1389.5 1192.4 1391.3 C1193.5 1393.0 1198.4 1395.8 1199.5 1397.5 C1200.6 1399.1 1200.4 1403.3 1201.2 1404.6 C1202.1 1405.9 1205.0 1407.4 1206.6 1408.1 C1208.1 1408.9 1211.7 1410.1 1213.7 1410.8 C1215.7 1411.5 1220.8 1413.2 1222.6 1413.5 C1224.3 1413.7 1226.8 1413.4 1227.9 1412.6 C1229.0 1411.8 1230.1 1408.3 1231.5 1407.3 C1232.8 1406.2 1236.8 1404.5 1238.6 1404.3 C1240.3 1404.1 1244.1 1404.8 1245.7 1405.5 C1247.2 1406.2 1249.7 1408.5 1251.0 1409.9 C1252.3 1411.4 1255.3 1415.9 1256.3 1417.0 C1257.3 1418.1 1257.7 1419.9 1259.0 1418.8 C1260.3 1417.7 1265.6 1410.1 1267.0 1408.1 C1268.4 1406.2 1268.2 1405.5 1270.1 1403.3 C1271.9 1401.1 1278.0 1392.5 1281.5 1390.3 C1284.9 1388.0 1294.1 1386.8 1297.8 1385.4 C1301.4 1384.0 1307.7 1380.3 1310.8 1378.9 C1313.8 1377.5 1319.9 1374.0 1322.2 1374.0 C1324.4 1374.0 1326.5 1378.1 1328.7 1378.9 C1330.9 1379.7 1337.1 1379.3 1340.1 1380.5 C1343.2 1381.7 1349.5 1387.0 1353.1 1388.7 C1356.8 1390.3 1365.0 1392.5 1369.4 1393.5 C1373.9 1394.6 1384.1 1396.8 1389.0 1396.8 C1393.9 1396.8 1404.1 1392.5 1408.5 1393.5 C1413.0 1394.6 1422.4 1402.7 1424.8 1404.9 C1427.3 1407.2 1426.1 1410.0 1428.1 1411.5 C1430.1 1412.9 1437.5 1414.3 1441.1 1416.3 C1444.8 1418.4 1453.7 1424.9 1457.4 1427.8 C1461.1 1430.6 1466.8 1437.3 1470.4 1439.2 C1474.1 1441.0 1482.7 1441.8 1486.7 1442.4 C1490.8 1443.0 1499.2 1442.8 1503.0 1444.0 C1506.9 1445.3 1514.2 1449.9 1517.7 1452.2 C1521.2 1454.4 1528.5 1459.3 1530.7 1462.0 C1533.0 1464.6 1534.2 1470.3 1535.6 1473.4 C1537.0 1476.4 1542.1 1483.1 1542.1 1486.4 C1542.1 1489.7 1536.8 1496.8 1535.6 1499.4 C1534.4 1502.1 1531.5 1507.0 1532.4 1507.6 C1533.2 1508.2 1539.3 1504.1 1542.1 1504.3 C1545.0 1504.5 1553.7 1507.2 1555.2 1509.2 C1556.6 1511.2 1551.9 1520.4 1553.5 1520.6 C1555.2 1520.8 1564.3 1511.5 1568.2 1510.8 C1572.1 1510.2 1580.6 1513.9 1584.5 1515.7 C1588.4 1517.6 1596.7 1523.3 1599.2 1525.5 C1601.6 1527.7 1601.4 1533.0 1604.0 1533.6 C1606.7 1534.3 1615.9 1530.4 1620.3 1530.4 C1624.8 1530.4 1634.6 1532.4 1639.9 1533.6 C1645.2 1534.9 1657.8 1537.9 1662.7 1540.2 C1667.6 1542.4 1674.9 1549.3 1679.0 1551.6 C1683.1 1553.8 1692.6 1554.8 1695.3 1558.1 C1697.9 1561.3 1700.2 1573.2 1700.2 1577.6 C1700.2 1582.1 1697.1 1590.3 1695.3 1593.9 C1693.4 1597.6 1688.8 1603.3 1685.5 1607.0 C1682.2 1610.6 1672.5 1619.6 1669.2 1623.3 C1665.9 1626.9 1661.1 1632.2 1659.4 1636.3 C1657.8 1640.4 1657.0 1650.1 1656.2 1655.8 C1655.4 1661.5 1653.5 1677.0 1652.9 1681.9 C1652.3 1686.8 1651.7 1693.1 1651.3 1694.9 C1650.9 1696.7 1651.1 1693.7 1649.7 1696.3 C1648.2 1698.9 1641.9 1711.4 1639.9 1715.8 C1637.8 1720.3 1635.4 1729.1 1633.4 1732.1 C1631.3 1735.2 1628.1 1738.7 1623.6 1740.3 C1619.1 1741.9 1603.2 1743.1 1597.5 1745.2 C1591.8 1747.2 1582.9 1753.7 1578.0 1756.6 C1573.1 1759.4 1561.3 1764.5 1558.4 1768.0 C1555.6 1771.4 1555.8 1780.2 1555.2 1784.3 C1554.6 1788.3 1555.6 1796.5 1553.5 1800.6 C1551.5 1804.6 1541.9 1813.8 1538.9 1816.9 C1535.8 1819.9 1531.1 1822.1 1529.1 1825.0 C1527.1 1827.8 1524.6 1836.2 1522.6 1839.7 C1520.5 1843.1 1514.8 1849.0 1512.8 1852.7 C1510.8 1856.4 1508.7 1866.1 1506.3 1869.0 C1503.8 1871.8 1496.9 1874.7 1493.3 1875.5 C1489.6 1876.3 1481.4 1875.7 1477.0 1875.5 C1472.5 1875.3 1458.4 1872.2 1457.4 1873.9 C1456.4 1875.5 1467.2 1885.1 1468.8 1888.5 C1470.4 1892.0 1471.5 1898.3 1470.4 1901.6 C1469.4 1904.8 1464.3 1912.0 1460.7 1914.6 C1457.0 1917.3 1446.0 1921.5 1441.1 1922.8 C1436.2 1924.0 1425.0 1923.4 1421.6 1924.4 C1418.1 1925.4 1414.9 1928.0 1413.4 1930.9 C1412.0 1933.7 1412.8 1944.9 1410.2 1947.2 C1407.5 1949.4 1395.5 1947.6 1392.2 1948.8 C1389.0 1950.0 1384.7 1954.5 1384.1 1957.0 C1383.5 1959.4 1385.9 1966.7 1387.4 1968.4 C1388.8 1970.0 1395.7 1968.6 1395.5 1970.0 C1395.3 1971.4 1387.8 1976.9 1385.7 1979.8 C1383.7 1982.6 1380.4 1990.0 1379.2 1992.8 C1378.0 1995.7 1378.0 2000.5 1376.0 2002.6 C1373.9 2004.6 1365.2 2006.7 1362.9 2009.1 C1360.7 2011.5 1357.2 2019.3 1358.0 2022.1 C1358.8 2025.0 1367.2 2029.9 1369.4 2031.9 C1371.7 2033.9 1376.8 2036.0 1376.0 2038.4 C1375.1 2040.9 1366.2 2048.2 1362.9 2051.5 C1359.7 2054.7 1352.7 2060.8 1349.9 2064.5 C1347.0 2068.2 1340.9 2076.7 1340.1 2080.8 C1339.3 2084.9 1342.6 2093.0 1343.4 2097.1 C1344.2 2101.1 1345.0 2109.7 1346.6 2113.4 C1348.3 2117.0 1353.1 2123.8 1356.4 2126.4 C1359.7 2129.0 1373.1 2133.1 1372.7 2134.5 C1372.3 2136.0 1357.6 2137.2 1353.1 2137.8 C1348.7 2138.4 1340.5 2139.6 1336.9 2139.4 C1333.2 2139.2 1327.9 2138.6 1323.8 2136.2 C1319.7 2133.7 1307.5 2124.0 1304.3 2119.9 C1301.0 2115.8 1299.8 2108.1 1297.8 2103.6 C1295.7 2099.1 1288.6 2088.1 1288.0 2084.0 C1287.4 2080.0 1293.3 2075.5 1292.9 2071.0 C1292.5 2066.5 1285.3 2054.3 1284.7 2048.2 C1284.1 2042.1 1286.3 2026.6 1288.0 2022.1 C1289.6 2017.7 1295.7 2016.4 1297.8 2012.4 C1299.8 2008.3 1303.0 1996.1 1304.3 1989.5 C1305.5 1983.0 1308.3 1964.3 1307.5 1960.2 C1306.7 1956.1 1298.6 1959.4 1297.8 1957.0 C1296.9 1954.5 1300.2 1946.8 1301.0 1940.7 C1301.8 1934.6 1302.8 1916.2 1304.3 1908.1 C1305.7 1899.9 1310.8 1883.6 1312.4 1875.5 C1314.0 1867.4 1316.1 1851.1 1317.3 1842.9 C1318.5 1834.8 1321.0 1818.5 1322.2 1810.3 C1323.4 1802.2 1325.9 1785.9 1327.1 1777.8 C1328.3 1769.6 1330.9 1753.3 1332.0 1745.2 C1333.0 1737.0 1334.7 1719.9 1335.2 1712.6 C1335.8 1705.3 1336.8 1690.1 1336.2 1686.5 C1335.6 1682.9 1335.1 1686.6 1330.3 1683.5 C1325.5 1680.5 1304.7 1667.0 1297.8 1662.4 C1290.8 1657.7 1279.4 1651.0 1274.9 1646.1 C1270.5 1641.2 1265.2 1629.8 1261.9 1623.3 C1258.7 1616.7 1252.1 1600.4 1248.9 1593.9 C1245.6 1587.4 1238.7 1575.6 1235.8 1571.1 C1233.0 1566.6 1227.5 1561.5 1226.1 1558.1 C1224.6 1554.6 1223.4 1545.5 1224.4 1543.4 C1225.5 1541.4 1231.6 1542.4 1234.2 1541.8 C1236.9 1541.2 1243.2 1539.4 1245.6 1538.5 C1248.1 1537.6 1252.1 1535.4 1253.8 1534.6 C1255.4 1533.8 1257.0 1532.9 1258.7 1532.0 C1260.3 1531.1 1264.8 1528.7 1266.8 1527.5 C1268.8 1526.2 1272.9 1523.9 1274.3 1522.2 C1275.6 1520.6 1276.7 1516.5 1277.5 1514.1 C1278.4 1511.7 1282.4 1505.0 1281.5 1502.7 C1280.5 1500.4 1272.5 1497.2 1270.1 1495.5 C1267.6 1493.9 1264.6 1491.6 1261.9 1489.7 C1259.3 1487.7 1249.3 1483.1 1248.9 1479.9 C1248.5 1476.6 1257.2 1467.7 1258.7 1463.6 C1260.1 1459.5 1259.9 1451.8 1260.3 1447.3 C1260.7 1442.8 1262.4 1431.5 1261.9 1427.8 C1261.4 1424.0 1257.0 1418.1 1256.0 1417.3 C1255.1 1416.5 1255.3 1421.7 1254.6 1421.5 C1253.8 1421.2 1251.2 1416.6 1250.1 1415.2 C1249.0 1413.9 1247.0 1411.6 1245.7 1410.8 C1244.3 1410.0 1241.0 1408.9 1239.5 1409.0 C1237.9 1409.1 1234.7 1410.5 1233.2 1411.7 C1231.8 1412.9 1228.9 1417.5 1227.9 1418.8 C1226.9 1420.1 1226.1 1422.2 1225.2 1422.4 C1224.3 1422.5 1222.2 1420.6 1220.8 1419.7 C1219.3 1418.8 1215.5 1416.2 1213.7 1415.2 C1211.9 1414.2 1208.2 1412.5 1206.6 1411.7 C1204.9 1410.9 1201.6 1409.5 1200.4 1409.0 C1199.1 1408.6 1197.6 1408.9 1196.8 1408.1 C1196.0 1407.4 1195.1 1404.0 1194.1 1402.8 C1193.1 1401.6 1190.4 1399.3 1188.8 1398.4 C1187.2 1397.5 1183.4 1396.3 1181.7 1395.7 C1180.0 1395.1 1176.5 1394.9 1175.5 1393.9 C1174.5 1392.9 1174.0 1389.8 1173.7 1387.7 C1173.4 1385.6 1173.8 1379.1 1172.8 1377.0 C1171.8 1374.9 1167.1 1372.3 1165.7 1370.8 C1164.3 1369.4 1163.0 1366.7 1161.3 1365.5 C1159.5 1364.3 1154.4 1362.2 1151.8 1361.0 C1149.1 1359.9 1143.3 1357.7 1139.9 1356.6 C1136.6 1355.5 1129.2 1353.8 1125.1 1352.2 C1121.0 1350.5 1111.0 1345.5 1107.3 1343.3 C1103.6 1341.0 1099.2 1336.2 1095.5 1334.4 C1091.8 1332.5 1082.9 1328.8 1077.7 1328.5 C1072.5 1328.1 1060.0 1332.2 1054.0 1331.4 C1048.1 1330.7 1036.3 1324.8 1030.3 1322.5 C1024.4 1320.3 1012.2 1316.2 1006.6 1313.6 C1001.1 1311.1 990.0 1305.5 985.9 1301.8 C981.8 1298.1 976.1 1289.2 974.1 1284.0 C972.0 1278.8 972.2 1266.6 969.6 1260.3 C967.0 1254.0 957.8 1238.9 953.3 1233.7 C948.9 1228.5 937.0 1223.1 934.1 1218.9 C931.1 1214.6 929.5 1204.8 929.6 1199.6 Z M1184.4 1266.8 C1185.7 1265.8 1193.2 1263.5 1196.2 1262.7 C1199.2 1261.9 1205.8 1260.8 1208.1 1260.3 C1210.3 1259.9 1210.6 1258.7 1214.0 1258.9 C1217.3 1259.0 1229.5 1260.1 1234.7 1261.8 C1239.9 1263.5 1249.5 1269.6 1255.5 1272.2 C1261.4 1274.8 1278.4 1280.7 1282.1 1282.5 C1285.8 1284.4 1287.8 1286.7 1285.1 1287.0 C1282.3 1287.2 1266.2 1286.4 1259.9 1284.6 C1253.6 1282.8 1240.5 1275.1 1234.7 1272.8 C1229.0 1270.4 1218.8 1266.1 1214.0 1265.7 C1209.2 1265.2 1199.7 1268.6 1196.2 1269.2 C1192.7 1269.8 1187.3 1271.0 1185.8 1270.7 C1184.4 1270.4 1183.1 1267.8 1184.4 1266.8 Z M1304.3 1292.3 C1305.4 1291.5 1311.9 1292.0 1314.7 1292.3 C1317.5 1292.7 1322.8 1294.4 1326.5 1295.3 C1330.2 1296.2 1341.3 1298.2 1344.3 1299.4 C1347.3 1300.6 1351.9 1303.7 1350.8 1304.8 C1349.7 1305.8 1339.9 1307.4 1335.4 1307.7 C1330.9 1308.0 1317.8 1307.9 1314.7 1307.1 C1311.5 1306.4 1311.4 1302.8 1310.2 1301.8 C1309.1 1300.8 1306.5 1300.0 1305.8 1298.8 C1305.1 1297.7 1303.2 1293.1 1304.3 1292.3 Z M1370.4 1307.7 C1371.4 1307.4 1377.4 1307.4 1378.4 1307.7 C1379.4 1308.1 1379.4 1310.1 1378.4 1310.4 C1377.4 1310.7 1371.4 1310.7 1370.4 1310.4 C1369.4 1310.1 1369.4 1308.1 1370.4 1307.7 Z" fill="#565b62"/><path d="M850 1150 L950 1160 L1010 1200 L960 1290 L935 1220 L880 1190 Z" fill="#565b62"/><path d="M852 1165 L875 1200 L905 1250 L925 1290 L915 1295 L880 1245 L850 1195 Z" fill="#565b62"/></g></g></g>
<g transform="translate(2073.15 1128.25)"><clipPath id="fc9"><circle cx="50.65" cy="50.65" r="50.65"/></clipPath><g clip-path="url(#fc9)"><rect x="0.00" y="0.00" width="101.30" height="50.00" fill="#ffde00"/><rect x="0.00" y="50.00" width="101.30" height="26.20" fill="#0450a4"/><rect x="0.00" y="76.20" width="101.30" height="30.00" fill="#ee1c25"/><path d="M35.5 33.5 L37.5 46 M65.5 33.5 L63.5 46 M31.5 38.5 L35 48 M69.5 38.5 L66 48" stroke="#8b6b3a" stroke-width="1.2" fill="none"/><path d="M32 70 L41 63 M69 70 L60 63" stroke="#9aa7c4" stroke-width="1" fill="none"/><path d="M41.5 37 C 33 40, 31 58, 38 68 L 44 66 C 39 58, 40 46, 44.5 41 Z" fill="#ffd800"/><path d="M59.5 37 C 68 40, 70 58, 63 68 L 57 66 C 62 58, 61 46, 56.5 41 Z" fill="#ffd800"/><path d="M41.2 50 C 40.5 57, 42.5 62.5, 46.5 66" fill="none" stroke="#1d4fa0" stroke-width="2"/><path d="M59.8 50 C 60.5 57, 58.5 62.5, 54.5 66" fill="none" stroke="#1d4fa0" stroke-width="2"/><path d="M42.6 52 C 42.6 57.5, 44.5 61.5, 48 64.5" fill="none" stroke="#d8262c" stroke-width="1.6"/><path d="M58.4 52 C 58.4 57.5, 56.5 61.5, 53 64.5" fill="none" stroke="#d8262c" stroke-width="1.6"/><path d="M38 37 C 40 36, 42.5 38, 43 42 L 41.5 46.5 C 40.5 43, 39 40, 38 37 Z" fill="#3a9a3f"/><path d="M63 37 C 61 36, 58.5 38, 58 42 L 59.5 46.5 C 60.5 43, 62 40, 63 37 Z" fill="#2f8c3a"/><ellipse cx="50.5" cy="50.1" rx="9.3" ry="13.0" fill="#c9a441"/><clipPath id="ecs"><ellipse cx="50.5" cy="50.1" rx="8.2" ry="11.9"/></clipPath><g clip-path="url(#ecs)"><rect x="40.00" y="36.00" width="22.00" height="12.50" fill="#5aa7d8"/><rect x="40.00" y="47.60" width="22.00" height="6.40" fill="#5c9e3f"/><rect x="40.00" y="53.80" width="22.00" height="10.00" fill="#2f8f9a"/><path d="M43.5 47.8 L48.3 44.6 L51 46.4 L54 45.4 L58 47.8 Z" fill="#f2f5f7"/><circle cx="50.5" cy="41.4" r="2.1" fill="#f6d21a"/><path d="M43 39.5 Q 50.5 36.2 58 39.5" fill="none" stroke="#d9b64a" stroke-width="1.4"/></g><path d="M49.2 62 L51.8 62 L52.4 76.5 L48.6 76.5 Z" fill="#d8344c"/><path d="M45 66.5 L48.4 66 L47.6 71.6 L44.4 71 Z" fill="#ffd800"/><path d="M56 66.5 L52.6 66 L53.4 71.6 L56.6 71 Z" fill="#ffd800"/><path d="M45.5 64.5 Q 50.5 67.5 55.5 64.5" fill="none" stroke="#b5772f" stroke-width="1.6"/><path d="M31.6 27.4 C 35 24.2, 40.5 23.6, 44.5 26.2 C 46.5 27.4, 47.8 28.6, 48.6 29.6 L 52.4 29.6 C 53.2 28.6, 54.5 27.4, 56.5 26.2 C 60.5 23.6, 66 24.2, 69.3 27.6 C 64.5 27, 60 28.2, 56.6 31 C 55 32.4, 54 33.6, 53.4 35 L 51.5 37.2 L 47.4 36.6 C 47.6 34.4, 47.2 32.6, 45.6 31 C 42 27.8, 36.5 26.8, 31.6 27.4 Z" fill="#40221a"/><circle cx="50.3" cy="28.9" r="1.7" fill="#efe9de"/></g></g>
<g transform="translate(2249.85 1128.25)"><clipPath id="fc10"><circle cx="50.65" cy="50.65" r="50.65"/></clipPath><g clip-path="url(#fc10)"><rect x="0.00" y="0.00" width="101.30" height="34.00" fill="#79aee2"/><rect x="0.00" y="34.00" width="101.30" height="34.20" fill="#ffffff"/><rect x="0.00" y="68.20" width="101.30" height="40.00" fill="#79aee2"/><path d="M57.29 50.85 L65.30 51.20 L57.29 51.55 Z M57.23 52.12 L63.55 53.74 L57.10 52.81 Z M56.93 53.36 L64.20 56.75 L56.66 54.01 Z M56.39 54.51 L61.61 58.42 L56.00 55.10 Z M55.64 55.54 L61.05 61.45 L55.14 56.04 Z M54.70 56.40 L58.02 62.01 L54.11 56.79 Z M53.61 57.06 L56.35 64.60 L52.96 57.33 Z M52.41 57.50 L53.34 63.95 L51.72 57.63 Z M51.15 57.69 L50.80 65.70 L50.45 57.69 Z M49.88 57.63 L48.26 63.95 L49.19 57.50 Z M48.64 57.33 L45.25 64.60 L47.99 57.06 Z M47.49 56.79 L43.58 62.01 L46.90 56.40 Z M46.46 56.04 L40.55 61.45 L45.96 55.54 Z M45.60 55.10 L39.99 58.42 L45.21 54.51 Z M44.94 54.01 L37.40 56.75 L44.67 53.36 Z M44.50 52.81 L38.05 53.74 L44.37 52.12 Z M44.31 51.55 L36.30 51.20 L44.31 50.85 Z M44.37 50.28 L38.05 48.66 L44.50 49.59 Z M44.67 49.04 L37.40 45.65 L44.94 48.39 Z M45.21 47.89 L39.99 43.98 L45.60 47.30 Z M45.96 46.86 L40.55 40.95 L46.46 46.36 Z M46.90 46.00 L43.58 40.39 L47.49 45.61 Z M47.99 45.34 L45.25 37.80 L48.64 45.07 Z M49.19 44.90 L48.26 38.45 L49.88 44.77 Z M50.45 44.71 L50.80 36.70 L51.15 44.71 Z M51.72 44.77 L53.34 38.45 L52.41 44.90 Z M52.96 45.07 L56.35 37.80 L53.61 45.34 Z M54.11 45.61 L58.02 40.39 L54.70 46.00 Z M55.14 46.36 L61.05 40.95 L55.64 46.86 Z M56.00 47.30 L61.61 43.98 L56.39 47.89 Z M56.66 48.39 L64.20 45.65 L56.93 49.04 Z M57.10 49.59 L63.55 48.66 L57.23 50.28 Z" fill="#dca23a"/><circle cx="50.8" cy="51.2" r="7.4" fill="#e9ae3c"/><circle cx="50.8" cy="51.2" r="4.6" fill="#f2c257"/></g></g>
<rect x="195" y="1660.3" width="106" height="65.5" rx="3" fill="#2f6df6"/><rect x="183.9" y="1650.2" width="105.7" height="66.5" rx="3.5" fill="#b5c9f8"/><path d="M203.5 1659.8 L270.4 1659.8 A8.5 8.5 0 0 0 278.9 1668.3 L278.9 1698.4 A8.5 8.5 0 0 0 270.4 1706.9 L203.5 1706.9 A8.5 8.5 0 0 0 195.0 1698.4 L195.0 1668.3 A8.5 8.5 0 0 0 203.5 1659.8 Z" fill="none" stroke="#2f6df6" stroke-width="3.4" stroke-linejoin="round"/><circle cx="236.8" cy="1683.5" r="13.1" fill="#2f6df6"/>
<circle cx="242.2" cy="2080.3" r="59.6" fill="#b5c9f8"/><path d="M202.2 2035.5 A7.8 9.5 0 0 1 217.8 2035.5" fill="none" stroke="#3f62c8" stroke-width="2.2"/><rect x="189.2" y="2039.3" width="41.6" height="38.7" fill="#2f6df6"/><path d="M202 2060.6 L208.4 2067 L220.6 2054.2" fill="none" stroke="#b5c9f8" stroke-width="3.6"/><path d="M240 2030.4 L249.5 2030.4 L253 2066.5" fill="none" stroke="#2f6df6" stroke-width="3.6"/><path d="M250.6 2035.8 L297 2036.3 L293.4 2066.8 L253 2066.8 Z" fill="#2f6df6" stroke="#2f6df6" stroke-width="1" stroke-linejoin="round"/><circle cx="256.2" cy="2075.5" r="5.1" fill="#2f6df6"/><circle cx="288.9" cy="2075.5" r="5.1" fill="#2f6df6"/><path d="M262.8 2052 H282.6 M272.7 2042.2 V2061.8" stroke="#b5c9f8" stroke-width="4.2"/><polygon points="213.9,2115.6 248.1,2089.4 270.8,2095.7 269.8,2117.3 235.5,2143.5" fill="#2f6df6"/><polygon points="244.33,2108.74 244.65,2115.28 250.03,2119.02 243.90,2121.35 242.01,2127.62 237.90,2122.51 231.35,2122.65 234.94,2117.17 232.79,2110.98 239.11,2112.70" fill="#b5c9f8"/>
<rect x="327.7" y="1496.6" width="103" height="5" fill="#58595b"/>
<rect x="327.7" y="1877.2" width="103" height="5" fill="#58595b"/>
<rect x="1216.0" y="2214.3" width="20.8" height="21.3" fill="#028b2b"/>
<rect x="1425.2" y="2214.3" width="20.8" height="21.3" fill="#a6213f"/>
<g style="font-family:'Liberation Sans',sans-serif;font-size:32.5px" fill="#58595b">
<text id="v0_0" x="533.5" y="1288.3" text-anchor="middle">7.8</text>
<text id="v0_1" x="706.7" y="1288.3" text-anchor="middle">7.7</text>
<text id="v0_2" x="880.0" y="1297.9" text-anchor="middle">4.8</text>
<text id="v0_3" x="1053.0" y="1297.9" text-anchor="middle">3.3</text>
<text id="v0_4" x="1226.3" y="1301.7" text-anchor="middle">1.7</text>
<text id="v0_5" x="1398.5" y="1301.7" text-anchor="middle">0.5</text>
<text id="v0_6" x="1583.5" y="1348.6" text-anchor="middle">-0.3</text>
<text id="v0_7" x="1759.4" y="1354.5" text-anchor="middle">-5</text>
<text id="v0_8" x="1936.3" y="1358.2" text-anchor="middle">-5.3</text>
<text id="v0_9" x="2112.3" y="1369.9" text-anchor="middle">-13.3</text>
<text id="v0_10" x="2288.7" y="1399.2" text-anchor="middle">-31.3</text>
<text id="v1_0" x="532.9" y="1685.0" text-anchor="middle">8.1</text>
<text id="v1_1" x="706.7" y="1693.0" text-anchor="middle">6.8</text>
<text id="v1_2" x="879.5" y="1750.6" text-anchor="middle">-0.6</text>
<text id="v1_3" x="1053.0" y="1750.6" text-anchor="middle">-3.2</text>
<text id="v1_4" x="1226.3" y="1701.0" text-anchor="middle">1.7</text>
<text id="v1_5" x="1399.6" y="1701.0" text-anchor="middle">1.6</text>
<text id="v1_6" x="1586.2" y="1693.0" text-anchor="middle">6.9</text>
<text id="v1_7" x="1755.9" y="1693.0" text-anchor="middle">6.8</text>
<text id="v1_9" x="2112.3" y="1773.0" text-anchor="middle">-13.3</text>
<text id="v1_10" x="2291.4" y="1447.2" text-anchor="middle">138.7</text>
<text id="v2_0" x="532.9" y="2038.5" text-anchor="middle">9.1</text>
<text id="v2_1" x="706.7" y="2042.2" text-anchor="middle">7.6</text>
<text id="v2_2" x="879.5" y="2051.8" text-anchor="middle">4.7</text>
<text id="v2_3" x="1053.0" y="2055.6" text-anchor="middle">1.7</text>
<text id="v2_4" x="1229.5" y="2043.8" text-anchor="middle">5.9</text>
<text id="v2_5" x="1410.8" y="2047.6" text-anchor="middle">5.8</text>
<text id="v2_6" x="1586.7" y="2040.1" text-anchor="middle">9.2</text>
<text id="v2_7" x="1758.6" y="2051.8" text-anchor="middle">3.3</text>
<text id="v2_8" x="1937.9" y="2047.6" text-anchor="middle">5.5</text>
<text id="v2_9" x="2110.1" y="2099.8" text-anchor="middle">-3.4</text>
<text id="v2_10" x="2294.1" y="2133.4" text-anchor="middle">-17.4</text>
</g>
<g style="font-family:'Liberation Sans',sans-serif;font-size:33.4px" fill="#58595b">
<text id="c0" x="497.2" y="1107.0" textLength="67.7" lengthAdjust="spacing">Peru</text>
<text id="c1" x="620.9" y="1107.0" textLength="159.9" lengthAdjust="spacing">Guatemala</text>
<text id="c2" x="805.4" y="1107.0" textLength="162.1" lengthAdjust="spacing">Costa Rica</text>
<text id="c3" x="989.6" y="1107.0" textLength="143.4" lengthAdjust="spacing">Colombia</text>
<text id="c4" x="1174.6" y="1107.0" textLength="118.9" lengthAdjust="spacing">Panama</text>
<text id="c5" x="1337.2" y="1107.0" textLength="145.5" lengthAdjust="spacing">Honduras</text>
<text id="c6" x="1548.9" y="1107.0" textLength="78.9" lengthAdjust="spacing">Brazil</text>
<text id="c7" x="1728.4" y="1107.0" textLength="73.6" lengthAdjust="spacing">Chile</text>
<text id="c8" x="1865.9" y="1107.0" textLength="154.6" lengthAdjust="spacing" font-weight="700" fill="#2d6cf6">LATAM 10</text>
<text id="c9" x="2056.8" y="1107.0" textLength="124.8" lengthAdjust="spacing">Ecuador</text>
<text id="c10" x="2223.1" y="1107.0" textLength="144.0" lengthAdjust="spacing">Argentina</text>
<text id="r0" transform="translate(386.5 1311.2) rotate(-90)" text-anchor="middle" textLength="243.1" lengthAdjust="spacing">Sales value USD</text>
<text id="r1" transform="translate(386.5 1696.5) rotate(-90)" text-anchor="middle" textLength="214.9" lengthAdjust="spacing">Sales value LC</text>
<text id="r2" transform="translate(386.5 2066.0) rotate(-90)" text-anchor="middle" textLength="161.5" lengthAdjust="spacing">Sales units</text>
<text id="lg0" x="1253.8" y="2235" textLength="129.2" lengthAdjust="spacing">Increase</text>
<text id="lg1" x="1460.8" y="2235" textLength="142.7" lengthAdjust="spacing">Decrease</text>
</g>
</svg>
<div class="usd" id="usd">$</div>
<div id="big" style="position:absolute;left:0;top:0;font-size:148px;font-weight:700;color:#0a1045;line-height:1;white-space:nowrap"><span id="big_a" style="position:absolute;z-index:2;left:197.0px;top:324.6px;transform:scale(1.314,1.280);transform-origin:0 50%">-</span><span id="big_b" style="position:absolute;z-index:0;left:259.5px;top:334.1px;transform:scale(1.180,1.000);transform-origin:0 50%">1</span><span id="big_c" style="position:absolute;z-index:2;left:345.6px;top:333.9px;transform:scale(1.084,1.000);transform-origin:0 50%">%</span><i style="position:absolute;z-index:1;left:255px;top:440px;width:46.3px;height:24px;background:#fff"></i><i style="position:absolute;z-index:1;left:324.8px;top:440px;width:34px;height:24px;background:#fff"></i></div>
<p class="g"><span class="t" id="fc1" style="left:200.40px;top:495.83px;font-size:38px;font-weight:400;color:#0a1045;letter-spacing:-0.281px">Forecasted value decline for</span>
<span class="t" id="fc2" style="left:200.40px;top:554.53px;font-size:38px;font-weight:400;color:#0a1045;letter-spacing:0.023px">full-year 2025</span></p>
<h1 class="g"><span class="t" id="h1" style="left:899.40px;top:340.28px;font-size:67px;font-weight:700;color:#2d6cf6;letter-spacing:-0.367px">Latin America (LATAM) region</span></h1>
<p class="g"><span class="t" id="p1_0" style="left:901.10px;top:461.38px;font-size:37px;font-weight:400;color:#626365;letter-spacing:-0.322px">Emerging markets will lead growth in Latin America (LATAM) in 2025, driven by</span>
<span class="t" id="p1_1" style="left:901.10px;top:520.08px;font-size:37px;font-weight:400;color:#626365;letter-spacing:-0.022px">Brazil’s strong currency and other economic stimuli. <b>Volume demand for consumer</b></span>
<span class="t" id="p1_2" style="left:901.10px;top:578.78px;font-size:37px;font-weight:400;color:#626365;letter-spacing:-0.132px"><b>technology is increasing across the region</b>, with only Ecuador and Argentina seeing</span>
<span class="t" id="p1_3" style="left:901.10px;top:637.48px;font-size:37px;font-weight:400;color:#626365;letter-spacing:-0.183px">declines. However, currency devaluation is impacting value growth when reported in US</span>
<span class="t" id="p1_4" style="left:901.10px;top:696.18px;font-size:37px;font-weight:400;color:#626365;letter-spacing:0.133px">dollars, leading to the -1% forecast for 2025.</span></p>
<h2 class="g"><span class="t" id="ct1" style="left:145.60px;top:864.70px;font-size:45.6px;font-weight:700;color:#0a1045;letter-spacing:-0.442px">Fall in sales value of Consumer Tech in LATAM strongly linked to the effect of the devaluation of</span>
<span class="t" id="ct2" style="left:145.60px;top:920.00px;font-size:45.6px;font-weight:700;color:#0a1045;letter-spacing:-0.213px">local currencies</span></h2>
<p class="g"><span class="t" id="cs" style="left:146.00px;top:994.65px;font-size:41.4px;font-weight:400;color:#0a1045;letter-spacing:0.026px">T&amp;D | LATAM 10 | Unit growth, value growth in local currency (LC), and value growth in USD | 2024 vs. 2023</span></p>
<p class="g"><span class="t" id="src" style="left:145.80px;top:2276.55px;font-size:21.8px;font-weight:400;color:#58595b;letter-spacing:-0.447px">Source: NIQ GfK Market Intelligence, sales tracking, Latin America (10 countries), 2024 vs. 2023</span></p>
<p class="g"><span class="t" id="p2_0" style="left:901.10px;top:2416.48px;font-size:37px;font-weight:400;color:#626365;letter-spacing:-0.077px">Demand this year will be highest for Major Domestic Appliances such as washing</span>
<span class="t" id="p2_1" style="left:901.10px;top:2474.78px;font-size:37px;font-weight:400;color:#626365;letter-spacing:-0.165px">machines, refrigerators and freezers, and air conditioning. TV sales should also start</span>
<span class="t" id="p2_2" style="left:901.10px;top:2533.08px;font-size:37px;font-weight:400;color:#626365;letter-spacing:-0.153px">to lift in anticipation of the World Cup next year, but peak demand will be in 2026.</span>
<span class="t" id="p2_3" style="left:901.10px;top:2591.38px;font-size:37px;font-weight:400;color:#626365;letter-spacing:0.124px">Smartphones face a saturated market, but the established brands face less competition</span>
<span class="t" id="p2_4" style="left:901.10px;top:2649.68px;font-size:37px;font-weight:400;color:#626365;letter-spacing:0.079px">in this category and should benefit from consumer upgrading as they replace their</span>
<span class="t" id="p2_5" style="left:901.10px;top:2707.98px;font-size:37px;font-weight:400;color:#626365;letter-spacing:0.314px">current phones.</span></p>
<p class="g"><span class="t" id="p3_0" style="left:901.10px;top:2787.48px;font-size:37px;font-weight:400;color:#626365;letter-spacing:0.170px">Argentina—one of the biggest markets within Latin America—continues to face</span>
<span class="t" id="p3_1" style="left:901.10px;top:2845.68px;font-size:37px;font-weight:400;color:#626365;letter-spacing:0.000px">headwinds, including high inflation and fiscal constraints that have impacted</span>
<span class="t" id="p3_2" style="left:901.10px;top:2903.88px;font-size:37px;font-weight:400;color:#626365;letter-spacing:0.017px">consumer consumption. However, GDP forecasts for Argentina have improved among</span>
<span class="t" id="p3_3" style="left:901.10px;top:2962.08px;font-size:37px;font-weight:400;color:#626365;letter-spacing:-0.084px">analysts’ projections, <a>ranging between 2.8% and 6%</a>. These are based on anticipated</span>
<span class="t" id="p3_4" style="left:901.10px;top:3020.28px;font-size:37px;font-weight:400;color:#626365;letter-spacing:0.229px">improvements in household consumption and broader macroeconomic stability,</span>
<span class="t" id="p3_5" style="left:901.10px;top:3078.48px;font-size:37px;font-weight:400;color:#626365;letter-spacing:-0.018px">particularly regarding currency and price stability. There are signs of gradual economic</span>
<span class="t" id="p3_6" style="left:901.10px;top:3136.68px;font-size:37px;font-weight:400;color:#626365;letter-spacing:0.000px">recovery, despite unemployment and inflation remaining high.</span></p>
<div class="g"><span class="t" id="pg" style="left:2416.80px;top:3172.05px;font-size:42px;font-weight:400;color:#111111;letter-spacing:0.000px;transform:scaleX(1.1331)">29</span></div>
</body></html>
